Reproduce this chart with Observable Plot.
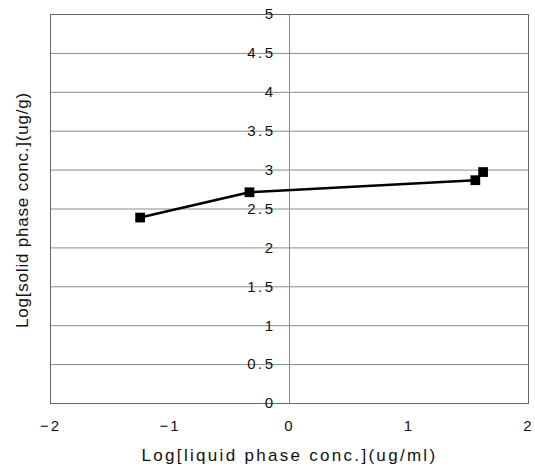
<!DOCTYPE html>
<html>
<head>
<meta charset="utf-8">
<script src="https://cdn.jsdelivr.net/npm/d3@7"></script>
<script src="https://cdn.jsdelivr.net/npm/@observablehq/plot@0.6"></script>
<style>
  html, body { margin: 0; padding: 0; background: #fff; }
  #chart svg { display: block; }
</style>
</head>
<body>
<div id="chart"></div>
<script>
const logLiquid = [-1.25, -0.335, 1.555, 1.62];
const logSolid = [2.39, 2.715, 2.87, 2.975];
const xTicks = [-2, -1, 0, 1, 2];
const yTicks = [0, 0.5, 1, 1.5, 2, 2.5, 3, 3.5, 4, 4.5, 5];
const xTitle = "Log[liquid phase conc.](ug/ml)";
const yTitle = "Log[solid phase conc.](ug/g)";

const points = logLiquid.map((x, i) => ({x, y: logSolid[i]}));
const font = "'Liberation Sans', Arial, sans-serif";

const chart = Plot.plot({
  width: 535,
  height: 468,
  marginLeft: 50,
  marginRight: 7,
  marginTop: 14,
  marginBottom: 65,
  style: {fontFamily: font, fontSize: "15px", color: "#111", background: "#fff"},
  x: {domain: [-2, 2]},
  y: {domain: [0, 5]},
  marks: [
    Plot.ruleY(yTicks, {stroke: "#8a8a8a", strokeWidth: 1}),
    Plot.ruleX([0], {stroke: "#8a8a8a", strokeWidth: 1}),
    Plot.frame({stroke: "#666", strokeWidth: 1}),
    Plot.axisX(xTicks, {
      tickSize: 0, tickPadding: 17, fontSize: 15,
      tickFormat: d => d < 0 ? "\u2212" + Math.abs(d) : String(d),
      label: null
    }),
    Plot.axisY([], {label: null, tickSize: 0}),
    Plot.text(yTicks, {
      x: 0, y: d => d, text: d => String(d),
      textAnchor: "end", dx: -14, fontSize: 15, fill: "#111",
      className: "ytick"
    }),
    Plot.text([xTitle], {
      frameAnchor: "bottom", dy: 57, fontSize: 17, fill: "#111",
      className: "xtitle"
    }),
    Plot.text([yTitle], {
      frameAnchor: "left", textAnchor: "middle", rotate: -90, dx: -28, dy: 1, fontSize: 17, fill: "#111",
      className: "ytitle"
    }),
    Plot.line(points, {x: "x", y: "y", stroke: "#000", strokeWidth: 2.5}),
    Plot.dot(points, {x: "x", y: "y", symbol: "square", r: 5.5, fill: "#000", stroke: "none"})
  ]
});
chart.querySelectorAll("text").forEach(t => t.style.letterSpacing = "2px");
chart.querySelectorAll(".ytick text").forEach(t => t.style.letterSpacing = "2.5px");
chart.querySelectorAll(".xtitle text").forEach(t => t.style.letterSpacing = "2.3px");
chart.querySelectorAll(".ytitle text").forEach(t => t.style.letterSpacing = "0.8px");
document.getElementById("chart").appendChild(chart);
</script>
</body>
</html>
